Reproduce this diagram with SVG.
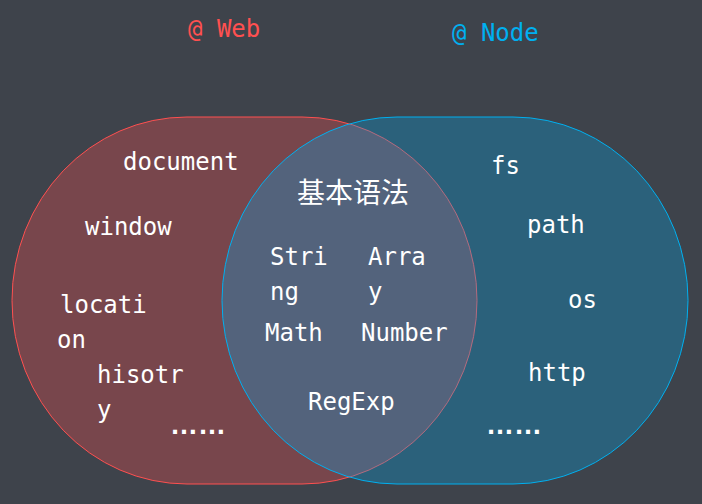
<svg xmlns="http://www.w3.org/2000/svg" width="702" height="504" viewBox="0 0 702 504">
<style>
.t{font-family:"DejaVu Sans Mono","Liberation Mono",monospace;font-size:24px;fill:#ffffff}
.cjk{font-family:"Noto Sans CJK SC","Noto Sans CJK JP",sans-serif;font-size:28px;fill:#ffffff}
.dots{font-family:"Liberation Sans",sans-serif;font-size:27px;font-weight:bold;fill:#ffffff}
</style>
<rect width="702" height="504" fill="#3e434b"/>
<g id="web-set">
<rect x="12" y="117" width="465" height="367" rx="175" ry="183.5" fill="#ff5050" fill-opacity="0.3" stroke="#ff5050" stroke-width="1"/>
</g>
<g id="node-set">
<rect x="222" y="117" width="466" height="367" rx="175" ry="183.5" fill="#00aaeb" fill-opacity="0.3" stroke="#00b0f0" stroke-width="1"/>
</g>
<g id="title-web"><text class="t" x="188" y="37" style="fill:#ff5050">@ Web</text></g>
<g id="title-node"><text class="t" x="452" y="41" style="fill:#00b0f0">@ Node</text></g>
<g id="web-items">
<text class="t" x="123" y="170">document</text>
<text class="t" x="85" y="235">window</text>
<text class="t" x="60" y="313">locati</text>
<text class="t" x="57" y="348">on</text>
<text class="t" x="97" y="383">hisotr</text>
<text class="t" x="97" y="418">y</text>
<text class="dots" x="170" y="434" textLength="56" lengthAdjust="spacingAndGlyphs">……</text>
</g>
<g id="common-items">
<text class="cjk" x="297" y="203">基本语法</text>
<text class="t" x="270" y="265">Stri</text>
<text class="t" x="270" y="300">ng</text>
<text class="t" x="265" y="341">Math</text>
<text class="t" x="368" y="265">Arra</text>
<text class="t" x="368" y="300">y</text>
<text class="t" x="361" y="341">Number</text>
<text class="t" x="308" y="410">RegExp</text>
</g>
<g id="node-items">
<text class="t" x="491" y="174">fs</text>
<text class="t" x="527" y="233">path</text>
<text class="t" x="568" y="308">os</text>
<text class="t" x="528" y="381">http</text>
<text class="dots" x="486" y="434" textLength="56" lengthAdjust="spacingAndGlyphs">……</text>
</g>
</svg>
